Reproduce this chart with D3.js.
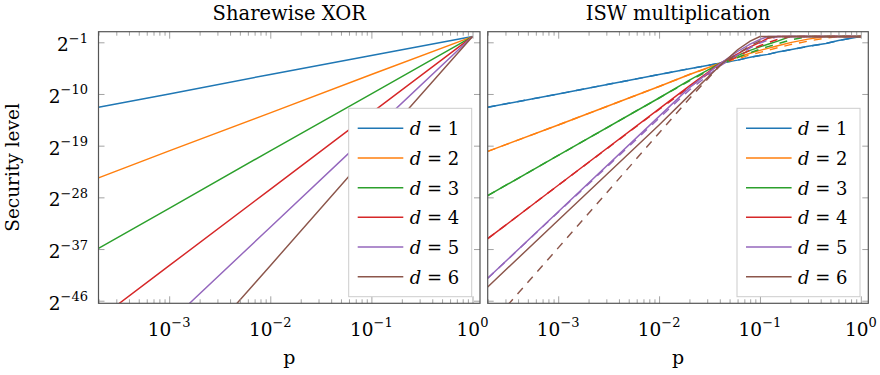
<!DOCTYPE html>
<html>
<head>
<meta charset="utf-8">
<script src="https://cdn.jsdelivr.net/npm/d3@7"></script>
<style>
  body { margin: 0; background: #fff; }
  text { font-family: "DejaVu Serif", serif; fill: #000; }
</style>
</head>
<body>
<div id="chart"></div>
<script>
// number of shares / masking order
const shares = [1, 2, 3, 4, 5, 6];
const colors = ['#1f77b4', '#ff7f0e', '#2ca02c', '#d62728', '#9467bd', '#8c564b'];

// Sharewise XOR: log2 of the security level at each p
const xorP = [2e-4, 1e-3, 1e-2, 1e-1, 1];
const xorExp = [
  [-12.3, -10.0, -6.6, -3.3, 0],
  [-24.6, -19.9, -13.3, -6.6, 0],
  [-36.9, -29.9, -19.9, -10.0, 0],
  [-49.2, -39.9, -26.6, -13.3, 0],
  [-61.4, -49.8, -33.2, -16.6, 0],
  [-73.7, -59.8, -39.9, -19.9, 0]
];

// ISW multiplication: log2 of the security level, solid and dashed curves
const iswP = [2e-4, 1e-3, 1e-2, 0.02, 0.041, 0.06, 0.08, 0.1, 0.12, 0.15, 0.2, 0.3, 0.45, 0.6, 1];
const iswSolidExp = [
  [-12.3, -10.0, -6.6, -5.6, -4.6, -4.1, -3.6, -3.3, -3.1, -2.7, -2.3, -1.7, -1.2, -0.7, 0],
  [-20.0, -15.4, -8.7, -6.6, -4.6, -3.6, -2.9, -2.4, -2.05, -1.6, -1.05, -0.45, 0, 0, 0],
  [-27.7, -20.7, -10.7, -7.6, -4.6, -3.3, -2.4, -1.8, -1.35, -0.8, 0, 0, 0, 0, 0],
  [-35.2, -25.9, -12.6, -8.6, -4.6, -3.0, -1.8, -1.0, -0.3, 0, 0, 0, 0, 0, 0],
  [-42.1, -30.5, -13.9, -8.9, -4.6, -2.6, -1.3, -0.5, 0, 0, 0, 0, 0, 0, 0],
  [-43.6, -32.0, -15.4, -10.2, -4.9, -2.3, -0.8, 0, 0, 0, 0, 0, 0, 0, 0]
];
const iswDashedExp = [
  [-12.3, -10.0, -6.6, -5.6, -4.6, -4.1, -3.6, -3.3, -3.1, -2.7, -2.3, -1.7, -1.2, -0.7, 0],
  [-20.0, -15.4, -8.7, -6.6, -4.7, -3.85, -3.2, -2.75, -2.4, -1.95, -1.4, -0.8, -0.25, 0, 0],
  [-27.7, -20.7, -10.7, -7.7, -4.8, -3.65, -2.8, -2.2, -1.75, -1.25, -0.6, 0, 0, 0, 0],
  [-35.2, -25.9, -12.7, -8.8, -4.9, -3.45, -2.35, -1.6, -1.05, -0.5, 0, 0, 0, 0, 0],
  [-42.1, -30.6, -14.2, -9.3, -5.0, -3.2, -1.95, -1.15, -0.6, 0, 0, 0, 0, 0, 0],
  [-50.7, -36.8, -16.8, -10.8, -4.9, -3.0, -1.6, -0.75, -0.2, 0, 0, 0, 0, 0, 0]
];

const yTickExp = [-1, -10, -19, -28, -37, -46];
const xTickExp = [-3, -2, -1, 0];

const width = 880, height = 375;
const plotTop = 31.7, plotBottom = 303.3;

const svg = d3.select('#chart').append('svg')
  .attr('width', width)
  .attr('height', height);

const y = d3.scaleLog().base(2)
  .domain([Math.pow(2, -46.45), Math.pow(2, 0.846)])
  .range([plotBottom, plotTop]);

const panels = [
  { title: 'Sharewise XOR', x0: 98.5, x1: 480, yLabels: true,
    sets: [{ p: xorP, vals: xorExp, dash: null }] },
  { title: 'ISW multiplication', x0: 487.7, x1: 868.3, yLabels: false,
    sets: [{ p: iswP, vals: iswSolidExp, dash: null }, { p: iswP, vals: iswDashedExp, dash: '8,7' }] }
];

// superscripted tick label like 2^{-10}
function powLabel(g, x, yy, base, exp, anchor) {
  const t = g.append('text')
    .attr('x', x).attr('y', yy)
    .attr('text-anchor', anchor)
    .style('font-size', '18.5px');
  t.append('tspan').text(base);
  t.append('tspan')
    .attr('dy', -8.5)
    .style('font-size', '13px')
    .text(exp < 0 ? '\u2212' + Math.abs(exp) : String(exp));
}

panels.forEach((pn, i) => {
  const x = d3.scaleLog().domain([2e-4, 1.186]).range([pn.x0, pn.x1]);
  const g = svg.append('g');

  const clipId = 'clip' + i;
  svg.append('defs').append('clipPath').attr('id', clipId)
    .append('rect')
    .attr('x', pn.x0).attr('y', plotTop)
    .attr('width', pn.x1 - pn.x0).attr('height', plotBottom - plotTop);

  // curves
  const line = d3.line()
    .x(d => x(d[0]))
    .y(d => y(Math.pow(2, d[1])));

  const lines = g.append('g').attr('clip-path', `url(#${clipId})`);
  shares.forEach((d, k) => {
    pn.sets.forEach(s => {
      const pts = s.p.map((p, j) => [p, s.vals[k][j]]);
      lines.append('path')
        .attr('d', line(pts))
        .attr('fill', 'none')
        .attr('stroke', colors[k])
        .attr('stroke-width', 1.45)
        .attr('stroke-dasharray', s.dash);
    });
  });

  // ticks (pointing inwards)
  const allX = x.ticks();
  const major = allX.filter(v => Math.abs(Math.log10(v) - Math.round(Math.log10(v))) < 1e-9);
  const minor = allX.filter(v => major.indexOf(v) < 0);
  const yVals = yTickExp.map(e => Math.pow(2, e));

  const tickStyle = sel => {
    sel.select('.domain').remove();
    sel.selectAll('line').attr('stroke', '#999').attr('stroke-width', 0.9);
  };

  g.append('g').attr('transform', `translate(0,${plotBottom})`)
    .call(d3.axisBottom(x).tickValues(minor).tickSize(-4).tickFormat('')).call(tickStyle);
  g.append('g').attr('transform', `translate(0,${plotBottom})`)
    .call(d3.axisBottom(x).tickValues(major).tickSize(-7).tickFormat('')).call(tickStyle);
  g.append('g').attr('transform', `translate(0,${plotTop})`)
    .call(d3.axisTop(x).tickValues(minor).tickSize(-4).tickFormat('')).call(tickStyle);
  g.append('g').attr('transform', `translate(0,${plotTop})`)
    .call(d3.axisTop(x).tickValues(major).tickSize(-7).tickFormat('')).call(tickStyle);
  g.append('g').attr('transform', `translate(${pn.x0},0)`)
    .call(d3.axisLeft(y).tickValues(yVals).tickSize(-6).tickFormat('')).call(tickStyle);
  g.append('g').attr('transform', `translate(${pn.x1},0)`)
    .call(d3.axisRight(y).tickValues(yVals).tickSize(-6).tickFormat('')).call(tickStyle);

  // frame
  g.append('rect')
    .attr('x', pn.x0).attr('y', plotTop)
    .attr('width', pn.x1 - pn.x0).attr('height', plotBottom - plotTop)
    .attr('fill', 'none')
    .attr('stroke', '#555')
    .attr('stroke-width', 1.2);

  // x tick labels
  xTickExp.forEach(e => powLabel(g, x(Math.pow(10, e)), 335.7, '10', e, 'middle'));
  // y tick labels
  if (pn.yLabels) {
    yTickExp.forEach(e => powLabel(g, 88, y(Math.pow(2, e)) + 9, '2', e, 'end'));
  }

  // title and x label
  g.append('text')
    .attr('x', (pn.x0 + pn.x1) / 2).attr('y', 20)
    .attr('text-anchor', 'middle')
    .style('font-size', '19.5px')
    .text(pn.title);
  g.append('text')
    .attr('x', (pn.x0 + pn.x1) / 2).attr('y', 364)
    .attr('text-anchor', 'middle')
    .style('font-size', '19px')
    .text('p');

  // legend
  const lw = 123, lh = 188.4;
  const lg = g.append('g')
    .attr('transform', `translate(${pn.x1 - 8.3 - lw},108.3)`);
  lg.append('rect')
    .attr('width', lw).attr('height', lh)
    .attr('fill', '#fff')
    .attr('stroke', '#ccc')
    .attr('stroke-width', 1);
  shares.forEach((d, k) => {
    const ry = 20 + k * 29.68;
    lg.append('line')
      .attr('x1', 9).attr('x2', 54.6)
      .attr('y1', ry).attr('y2', ry)
      .attr('stroke', colors[k])
      .attr('stroke-width', 1.45);
    const t = lg.append('text')
      .attr('x', 61).attr('y', ry + 7)
      .style('font-size', '18px');
    t.append('tspan').style('font-style', 'italic').text('d');
    t.append('tspan').text(' = ' + d);
  });
});

// y axis label
svg.append('text')
  .attr('transform', `translate(19,${(plotTop + plotBottom) / 2}) rotate(-90)`)
  .attr('text-anchor', 'middle')
  .style('font-size', '18.5px')
  .text('Security level');
</script>
</body>
</html>
